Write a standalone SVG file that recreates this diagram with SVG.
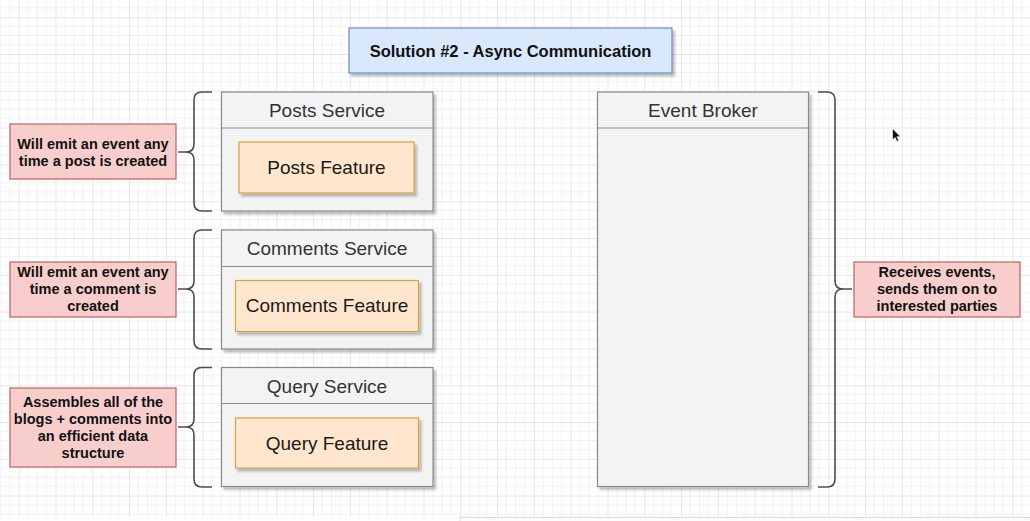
<svg xmlns="http://www.w3.org/2000/svg" width="1030" height="521" viewBox="0 0 1030 521">
  <defs>
    <pattern id="grid" patternUnits="userSpaceOnUse" x="55.5" y="54" width="36.8" height="36.8">
      <path d="M9.2,0V36.8M18.4,0V36.8M27.6,0V36.8M0,9.2H36.8M0,18.4H36.8M0,27.6H36.8" stroke="#f1f1f1" stroke-width="1" fill="none"/>
      <path d="M0.5,0V36.8M0,0.5H36.8" stroke="#e6e6e6" stroke-width="1" fill="none"/>
    </pattern>
    <filter id="shadow" x="-10%" y="-10%" width="130%" height="130%">
      <feDropShadow dx="2.5" dy="3" stdDeviation="1" flood-color="#000" flood-opacity="0.25"/>
    </filter>
  </defs>
  <style>
    .title { fill: #dae8fc; stroke: #6c8ebf; stroke-width: 1.2; filter: url(#shadow); }
    .svc { fill: #f3f3f3; stroke: #8a8a8a; stroke-width: 1.2; filter: url(#shadow); }
    .hdr { stroke: #8a8a8a; stroke-width: 1.2; }
    .feat { fill: #ffe6cc; stroke: #d7a33c; stroke-width: 1.2; filter: url(#shadow); }
    .note { fill: #f8cecc; stroke: #c0625e; stroke-width: 1.2; }
    .brace { fill: none; stroke: #4d4d4d; stroke-width: 1.6; }
    text { font-family: "Liberation Sans", Arial, sans-serif; text-anchor: middle; }
    .t-title { font-size: 16.5px; font-weight: bold; fill: #111; }
    .t-hdr { font-size: 19px; fill: #333; }
    .t-feat { font-size: 19px; fill: #1a1a1a; }
    .t-note { font-size: 14.5px; font-weight: bold; fill: #111; }
  </style>

  <!-- canvas -->
  <rect width="1030" height="521" fill="#ffffff"/>
  <rect width="1030" height="517" fill="url(#grid)"/>
  <rect x="460" y="517.5" width="575" height="8" fill="#fbfbfb" stroke="#dcdcdc" stroke-width="1"/>

  <!-- title -->
  <g id="title">
    <rect class="title" x="349" y="28" width="323" height="45"/>
    <text class="t-title" x="510.5" y="57">Solution #2 - Async Communication</text>
  </g>

  <!-- posts service -->
  <g id="posts-service">
    <rect class="svc" x="221.5" y="92" width="211.5" height="119"/>
    <line class="hdr" x1="221.5" y1="128" x2="433" y2="128"/>
    <text class="t-hdr" x="327" y="117">Posts Service</text>
  </g>
  <g id="posts-feature">
    <rect class="feat" x="239" y="142" width="175" height="51"/>
    <text class="t-feat" x="326.5" y="174">Posts Feature</text>
  </g>
  <g id="posts-note">
    <rect class="note" x="10" y="124" width="166" height="55"/>
    <text class="t-note" x="93" y="149">Will emit an event any</text>
    <text class="t-note" x="93" y="166">time a post is created</text>
  </g>

  <!-- comments service -->
  <g id="comments-service">
    <rect class="svc" x="221.5" y="230" width="211.5" height="119"/>
    <line class="hdr" x1="221.5" y1="266.5" x2="433" y2="266.5"/>
    <text class="t-hdr" x="327" y="255">Comments Service</text>
  </g>
  <g id="comments-feature">
    <rect class="feat" x="235.5" y="280.5" width="183" height="51"/>
    <text class="t-feat" x="327" y="312">Comments Feature</text>
  </g>
  <g id="comments-note">
    <rect class="note" x="10" y="262" width="166" height="55"/>
    <text class="t-note" x="93" y="277">Will emit an event any</text>
    <text class="t-note" x="93" y="294">time a comment is</text>
    <text class="t-note" x="93" y="311">created</text>
  </g>

  <!-- query service -->
  <g id="query-service">
    <rect class="svc" x="221.5" y="367.5" width="211.5" height="119"/>
    <line class="hdr" x1="221.5" y1="403.5" x2="433" y2="403.5"/>
    <text class="t-hdr" x="327" y="393">Query Service</text>
  </g>
  <g id="query-feature">
    <rect class="feat" x="235.5" y="418" width="183" height="50"/>
    <text class="t-feat" x="327" y="450">Query Feature</text>
  </g>
  <g id="query-note">
    <rect class="note" x="10" y="388" width="166" height="79"/>
    <text class="t-note" x="93" y="407">Assembles all of the</text>
    <text class="t-note" x="93" y="424">blogs + comments into</text>
    <text class="t-note" x="93" y="441">an efficient data</text>
    <text class="t-note" x="93" y="458">structure</text>
  </g>

  <!-- event broker -->
  <g id="event-broker">
    <rect class="svc" x="597.5" y="92" width="211" height="394.5"/>
    <line class="hdr" x1="597.5" y1="128" x2="808.5" y2="128"/>
    <text class="t-hdr" x="703" y="117">Event Broker</text>
  </g>
  <g id="broker-note">
    <rect class="note" x="854" y="262" width="166" height="55"/>
    <text class="t-note" x="937" y="277">Receives events,</text>
    <text class="t-note" x="937" y="294">sends them on to</text>
    <text class="t-note" x="937" y="311">interested parties</text>
  </g>

  <!-- braces joining notes to their services -->
  <g id="connectors">
    <path class="brace" d="M212,92 H202 Q194,92 194,100 V144 Q194,152 186,152 H178 M186,152 Q194,152 194,160 V203 Q194,211 202,211 H212"/>
    <path class="brace" d="M212,230 H202 Q194,230 194,238 V281 Q194,289 186,289 H178 M186,289 Q194,289 194,297 V341 Q194,349 202,349 H212"/>
    <path class="brace" d="M212,367.5 H202 Q194,367.5 194,375.5 V419 Q194,427 186,427 H178 M186,427 Q194,427 194,435 V479 Q194,487 202,487 H212"/>
    <path class="brace" d="M818,92 H827 Q835,92 835,100 V281 Q835,289 843,289 H852 M843,289 Q835,289 835,297 V479 Q835,487 827,487 H818"/>
  </g>

  <!-- pointer -->
  <path d="M892.5,128.5 V140 L895,137.5 L897,141.5 L898.8,140.7 L896.9,136.8 L900.3,136.6 Z" fill="#111" stroke="#fff" stroke-width="0.6"/>
</svg>
